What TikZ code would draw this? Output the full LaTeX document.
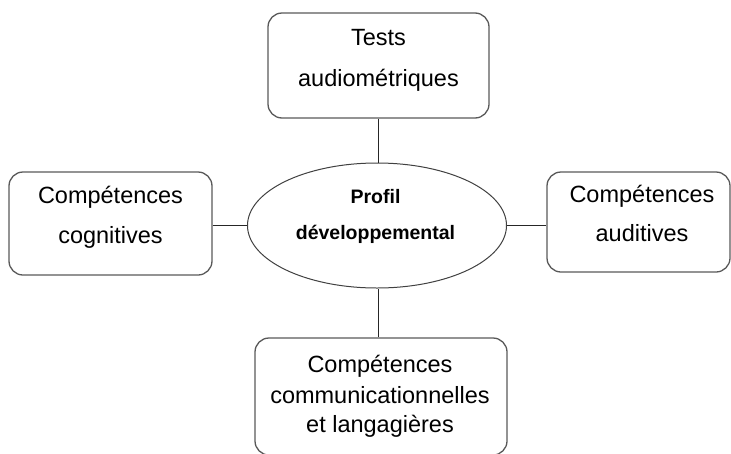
\documentclass[tikz,border=0pt]{standalone}
\usepackage{fontspec}
\setmainfont{Liberation Sans}
\usetikzlibrary{shapes.geometric}
\begin{document}
\begin{tikzpicture}[x=1pt,y=-1pt,
  boxnode/.style={draw=black!65, line width=1.3pt, rounded corners=14pt, inner sep=0pt},
  txt/.style={anchor=base, inner sep=0pt, font=\fontsize{23.5}{28}\selectfont},
  boldtxt/.style={anchor=base, inner sep=0pt, font=\fontsize{19.5}{24}\selectfont\bfseries},
  ellnode/.style={draw=black!75, line width=1pt, ellipse, inner sep=0pt, minimum width=259pt, minimum height=125pt},
  link/.style={draw=black!85, line width=1pt}]
\useasboundingbox (0,0) rectangle (731,453);
% boxes
\node[boxnode, minimum width=221pt, minimum height=105pt] (top) at (378.5,65.5) {};
\node[boxnode, minimum width=203pt, minimum height=103pt] (left) at (110.5,223.5) {};
\node[boxnode, minimum width=183pt, minimum height=100pt] (right) at (638.5,222) {};
\node[boxnode, minimum width=252pt, minimum height=117pt] (bottom) at (381,396.5) {};
\node[ellnode] (ell) at (377,225.5) {};
% texts
\node[txt] (t1) at (378.5,45) {Tests};
\node[txt] (t2) at (378.5,86) {audiométriques};
\node[txt] (l1) at (110.5,203) {Compétences};
\node[txt] (l2) at (110.5,243) {cognitives};
\node[txt] (r1) at (642,202.5) {Compétences};
\node[txt] (r2) at (642,241.5) {auditives};
\node[txt] (b1) at (380,372) {Compétences};
\node[txt] (b2) at (380,403) {communicationnelles};
\node[txt] (b3) at (380,432) {et langagières};
\node[boldtxt] (e1) at (375.5,203) {Profil};
\node[boldtxt] (e2) at (375.5,239) {développemental};
% connectors
\draw[link] (top.south) -- (top.south |- ell.north);
\draw[link] (bottom.north -| top.south) -- (top.south |- ell.south);
\draw[link] (ell.west -| left.east) -- (ell.west);
\draw[link] (ell.east) -- (ell.east -| right.west);
\end{tikzpicture}
\end{document}
